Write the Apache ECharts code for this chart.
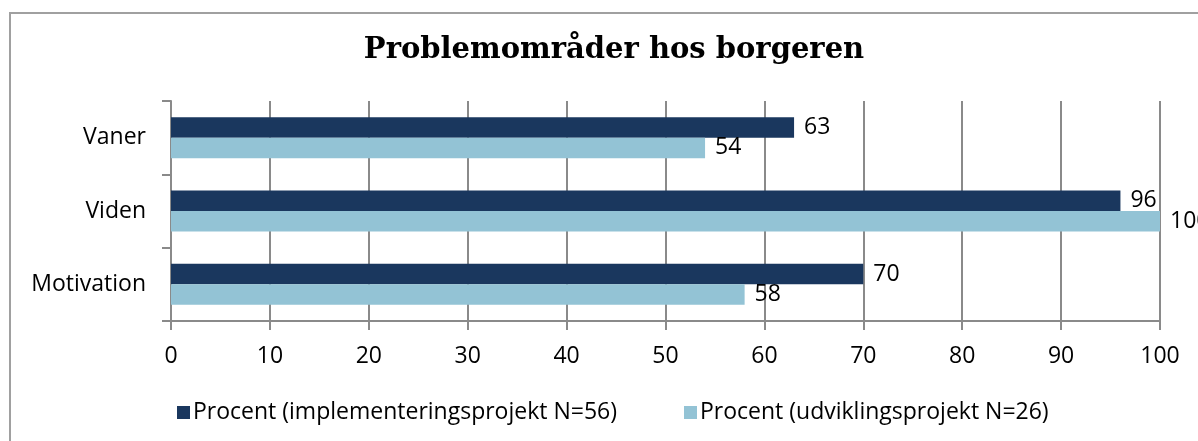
<!DOCTYPE html>
<html><head><meta charset="utf-8">
<script src="https://cdn.jsdelivr.net/npm/echarts@6/dist/echarts.min.js"></script>
<style>html,body{margin:0;padding:0;background:#fff}#c{width:1198px;height:441px}</style>
</head><body><div id="c"></div>
<script>
const categories = ['Vaner', 'Viden', 'Motivation'];
const seriesNames = ['Procent (implementeringsprojekt N=56)', 'Procent (udviklingsprojekt N=26)'];
const implementering = [63, 96, 70];
const udvikling = [54, 100, 58];
const xTicks = [0, 10, 20, 30, 40, 50, 60, 70, 80, 90, 100];

const chart = echarts.init(document.getElementById('c'));
const font = 'Open Sans';
const gray = '#8a8a8a';
chart.setOption({
  animation: false,
  title: {
    text: 'Problemområder hos borgeren',
    left: 609, top: 31, textAlign: 'center',
    textStyle: {fontFamily: 'DejaVu Serif', fontWeight: 'bold', fontSize: 29, color: '#000'}
  },
  graphic: [{
    type: 'rect', shape: {x: 10, y: 13, width: 1200, height: 440},
    style: {fill: 'none', stroke: '#a0a0a0', lineWidth: 2}, silent: true
  }],
  legend: {
    left: 172, top: 396, itemWidth: 13, itemHeight: 13, itemGap: 67,
    icon: 'rect',
    textStyle: {fontFamily: font, fontSize: 23, color: '#000', padding: [0, 0, 0, -2]},
    data: seriesNames
  },
  grid: {left: 171, right: 38, top: 101, bottom: 120, containLabel: false},
  xAxis: {
    type: 'value', min: 0, max: 100, interval: 10,
    axisLine: {show: true, lineStyle: {color: gray, width: 2}},
    axisTick: {show: true, length: 9, lineStyle: {color: gray, width: 2}},
    splitLine: {show: true, lineStyle: {color: gray, width: 2}},
    axisLabel: {fontFamily: font, fontSize: 23, color: '#000', margin: 24,
      formatter: v => xTicks.includes(v) ? String(v) : ''}
  },
  yAxis: {
    type: 'category', data: categories, inverse: true,
    axisLine: {show: true, lineStyle: {color: gray, width: 2}},
    axisTick: {show: true, length: 9, lineStyle: {color: gray, width: 2}},
    axisLabel: {fontFamily: font, fontSize: 23, color: '#000', margin: 25}
  },
  series: [
    {name: seriesNames[0], type: 'bar', data: implementering, barGap: '0%', barCategoryGap: '44%',
     itemStyle: {color: '#1a375e'},
     label: {show: true, position: 'right', distance: 10, fontFamily: font, fontSize: 23, color: '#000'}},
    {name: seriesNames[1], type: 'bar', data: udvikling, barGap: '0%', barCategoryGap: '44%',
     itemStyle: {color: '#93c3d5'},
     label: {show: true, position: 'right', distance: 10, fontFamily: font, fontSize: 23, color: '#000'}}
  ]
});
</script></body></html>
